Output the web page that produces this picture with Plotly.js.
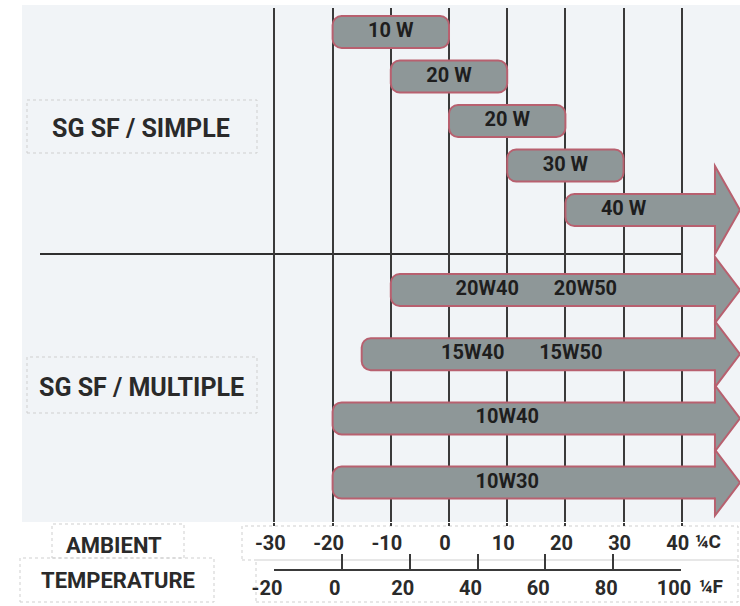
<!DOCTYPE html>
<html>
<head>
<meta charset="utf-8">
<script src="https://cdn.plot.ly/plotly-3.0.1.min.js"></script>
<style>html,body{margin:0;padding:0;background:#fff;}#chart{width:740px;height:606px;}</style>
</head>
<body>
<div id="chart"></div>
<script>
// ---------- data ----------
const simpleGrades = ['10 W', '20 W', '20 W', '30 W', '40 W'];
const simpleMinC   = [-20, -10, 0, 10, 20];
const simpleMaxC   = [0, 10, 20, 30, null];          // null = open ended (arrow)
const multiGrades  = ['20W40\u00a0\u00a0\u00a0\u00a0\u00a0\u00a0\u00a020W50', '15W40\u00a0\u00a0\u00a0\u00a0\u00a0\u00a0\u00a015W50', '10W40', '10W30'];
const multiMinC    = [-10, -15, -20, -20];
const multiMaxC    = [null, null, null, null];
const celsiusTicks    = [-30, -20, -10, 0, 10, 20, 30, 40];
const fahrenheitTicks = [-20, 0, 20, 40, 60, 80, 100];
const groupLabels  = ['SG SF / SIMPLE', 'SG SF / MULTIPLE'];
const axisLabelLines = ['AMBIENT', 'TEMPERATURE'];
const celsiusUnit = '¼C';
const fahrenheitUnit = '¼F';

// ---------- layout constants ----------
const W = 740, H = 606;
const X0 = -77.15, X1 = 50.0;              // celsius range across full width
const Y_TOP = 8, Y_BOT = 522;              // plot area (px units on y)
const simpleRow0 = 32, simpleStep = 44.5;
const multiRow0 = 290, multiStep = 64.2;
const barH = 32;
const arrowBase = 45.7, arrowTip = 50.0, arrowOverlap = 1.5;
const openLabelEnd = 40;
const FONT = 'Roboto, "Liberation Sans", sans-serif';
const barFill = '#8e9798', barLine = '#b8606f';
const px2x = p => X0 + p / W * (X1 - X0);
const px2py = p => 1 - p / H;

function rows(grades, mins, maxs, y0, step) {
  return grades.map((g, i) => ({
    label: g, min: mins[i], max: maxs[i], y: y0 + i * step
  }));
}
const allRows = rows(simpleGrades, simpleMinC, simpleMaxC, simpleRow0, simpleStep)
  .concat(rows(multiGrades, multiMinC, multiMaxC, multiRow0, multiStep));

const barTrace = {
  type: 'bar', orientation: 'h',
  y: allRows.map(r => r.y),
  base: allRows.map(r => r.min),
  x: allRows.map(r => (r.max === null ? arrowBase + arrowOverlap : r.max) - r.min),
  width: barH,
  marker: { color: barFill, line: { color: barLine, width: 2 }, cornerradius: 9 },
  hoverinfo: 'skip', showlegend: false
};
const textTrace = {
  type: 'scatter', mode: 'text',
  x: allRows.map(r => (r.min + (r.max === null ? openLabelEnd : r.max)) / 2),
  y: allRows.map(r => r.y),
  text: allRows.map(r => r.label),
  textfont: { family: FONT, size: 20, color: '#1e1e1e', weight: 700 },
  hoverinfo: 'skip', showlegend: false
};
const dummyF = {
  type: 'scatter', mode: 'markers', xaxis: 'x2', yaxis: 'y',
  x: [fahrenheitTicks[0], fahrenheitTicks[fahrenheitTicks.length - 1]], y: [515, 515],
  marker: { opacity: 0 }, hoverinfo: 'skip', showlegend: false
};

const shapes = [];
// light background panel
shapes.push({ type: 'rect', xref: 'paper', yref: 'paper', x0: 22 / W, x1: 1, y0: px2py(522), y1: px2py(5),
  fillcolor: '#f1f4f7', line: { width: 0 }, layer: 'below' });
// group separator
shapes.push({ type: 'line', xref: 'x', yref: 'y', x0: px2x(40), x1: celsiusTicks[celsiusTicks.length - 1], y0: 254, y1: 254,
  line: { color: '#2f2f2f', width: 2 }, layer: 'below' });
// arrow heads
allRows.forEach((r, i) => {
  if (r.max !== null) return;
  const hh = i < simpleGrades.length ? 44 : 33;
  const b = barH / 2;
  shapes.push({ type: 'path', xref: 'x', yref: 'y', layer: 'above',
    path: `M${arrowBase},${r.y - b + 1} L${arrowBase},${r.y - hh} L${arrowTip},${r.y} L${arrowBase},${r.y + hh} L${arrowBase},${r.y + b - 1}`,
    fillcolor: barFill, line: { color: barLine, width: 2 } });
});
// faint dotted boxes
function dotBox(x0, y0, x1, y1) {
  shapes.push({ type: 'rect', xref: 'paper', yref: 'paper', x0: x0 / W, x1: x1 / W, y0: px2py(y1), y1: px2py(y0),
    line: { color: '#cfcfcf', width: 1, dash: 'dot' }, layer: 'below' });
}
dotBox(27, 100, 257, 153);
dotBox(27, 357, 257, 413);
dotBox(52, 524, 184, 558);
dotBox(20, 558, 214, 602);
dotBox(242, 526, 738, 560);
dotBox(256, 560, 738, 602);

function ann(text, xpx, ypx, size) {
  return { text: text, x: xpx / W, y: px2py(ypx), xref: 'paper', yref: 'paper',
    xanchor: 'center', yanchor: 'middle', showarrow: false,
    font: { family: FONT, size: size, color: '#2a2a2a', weight: 700 } };
}
const annotations = [
  ann(groupLabels[0], 141, 128, 25),
  ann(groupLabels[1], 141, 387, 25),
  ann(axisLabelLines[0], 114, 545, 22),
  ann(axisLabelLines[1], 118, 580, 22),
  ann(celsiusUnit, 708, 541, 19),
  ann(fahrenheitUnit, 711, 586, 19)
];

const tickFont = { family: FONT, size: 20, color: '#2a2a2a', weight: 700 };
const layout = {
  width: W, height: H,
  margin: { l: 0, r: 0, t: 0, b: 0, pad: 0 },
  paper_bgcolor: '#ffffff', plot_bgcolor: 'rgba(0,0,0,0)',
  showlegend: false, barmode: 'overlay',
  xaxis: {
    domain: [0, 1], range: [X0, X1], anchor: 'y',
    tickmode: 'array', tickvals: celsiusTicks, ticktext: celsiusTicks.map(v => String(v)),
    showgrid: true, gridcolor: '#3a3a3a', gridwidth: 2,
    ticks: 'outside', ticklen: 3, tickwidth: 2, tickcolor: '#3a3a3a',
    showline: false, zeroline: false, tickfont: tickFont, ticklabelshift: -4, fixedrange: true
  },
  xaxis2: {
    domain: [274 / W, 681 / W], range: [fahrenheitTicks[0], fahrenheitTicks[fahrenheitTicks.length - 1]],
    anchor: 'free', position: px2py(570),
    tickmode: 'array', tickvals: fahrenheitTicks, ticktext: fahrenheitTicks.map(v => String(v)),
    ticks: 'inside', ticklen: 15, tickwidth: 2, tickcolor: '#3a3a3a',
    showline: true, linecolor: '#3a3a3a', linewidth: 2,
    showgrid: false, zeroline: false, tickfont: tickFont, ticklabelshift: -7, fixedrange: true
  },
  yaxis: {
    domain: [px2py(Y_BOT), px2py(Y_TOP)], range: [Y_BOT, Y_TOP],
    visible: false, showgrid: false, zeroline: false, fixedrange: true
  },
  shapes: shapes,
  annotations: annotations
};

Plotly.newPlot('chart', [barTrace, textTrace, dummyF], layout, { displayModeBar: false, staticPlot: true });
</script>
</body>
</html>
